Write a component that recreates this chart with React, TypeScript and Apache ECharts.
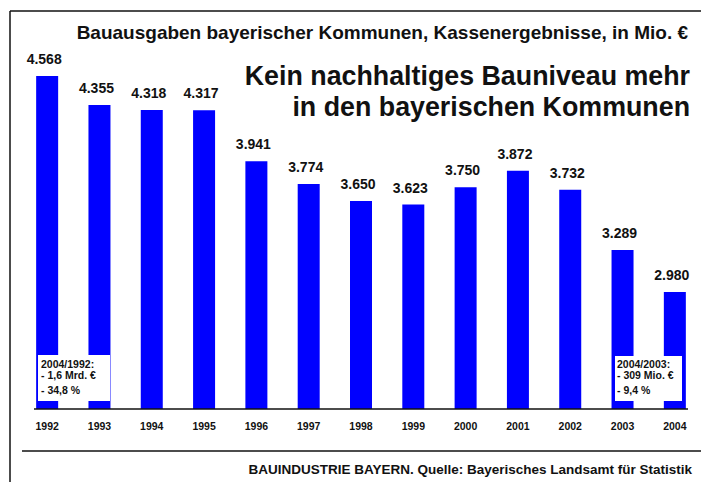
import React, { useEffect, useRef } from "react";
import * as echarts from "echarts";

const years = ["1992", "1993", "1994", "1995", "1996", "1997", "1998", "1999", "2000", "2001", "2002", "2003", "2004"];
const spending = [4568, 4355, 4318, 4317, 3941, 3774, 3650, 3623, 3750, 3872, 3732, 3289, 2980];
const subtitle = "Bauausgaben bayerischer Kommunen, Kassenergebnisse, in Mio. €";
const headline = ["Kein nachhaltiges Bauniveau mehr", "in den bayerischen Kommunen"];
const noteLeft = ["2004/1992:", "- 1,6 Mrd. €", "- 34,8 %"];
const noteRight = ["2004/2003:", "- 309 Mio. €", "- 9,4 %"];
const footer = "BAUINDUSTRIE BAYERN. Quelle: Bayerisches Landsamt für Statistik";

const FONT = '"Liberation Sans", Arial, Helvetica, sans-serif';

export default function App() {
  const ref = useRef<HTMLDivElement>(null);
  useEffect(() => {
    if (!ref.current) return;
    const chart = echarts.init(ref.current, null, { renderer: "svg" });
    const txt = (text: string, size: number) => ({
      text,
      fontFamily: FONT,
      fontWeight: "bold",
      fontSize: size,
      fill: "#111",
    });
    const noteText = (lines: string[], x: number) =>
      lines.map((t, i) => ({
        type: "text",
        left: x,
        top: [358, 369, 384][i],
        z: 20,
        style: txt(t, 10.5),
      }));
    chart.setOption({
      animation: false,
      backgroundColor: "#ffffff",
      grid: { left: 21, right: 0, top: 76, bottom: 73, containLabel: false },
      xAxis: {
        type: "category",
        data: years,
        axisLine: { show: false },
        axisTick: { show: false },
        axisLabel: { color: "#111", fontFamily: FONT, fontWeight: "bold", fontSize: 10.5, margin: 11 },
      },
      yAxis: {
        type: "value",
        min: 2120,
        max: 4568,
        show: false,
        splitLine: { show: false },
      },
      series: [
        {
          type: "bar",
          data: spending,
          barWidth: 22,
          itemStyle: { color: "#0000ff" },
          label: {
            show: true,
            position: "top",
            distance: 10,
            offset: [-3, 0],
            color: "#111",
            fontFamily: FONT,
            fontWeight: "bold",
            fontSize: 14,
            formatter: (p: any) => (p.value / 1000).toFixed(3),
          },
        },
      ],
      graphic: [
        { type: "line", shape: { x1: 10, y1: 11, x2: 701, y2: 11 }, style: { stroke: "#111", lineWidth: 1.5 } },
        { type: "line", shape: { x1: 10, y1: 11, x2: 10, y2: 482 }, style: { stroke: "#111", lineWidth: 1.5 } },
        { type: "line", shape: { x1: 34, y1: 409, x2: 688, y2: 409 }, style: { stroke: "#111", lineWidth: 1.5 }, z: 20 },
        { type: "line", shape: { x1: 22, y1: 451, x2: 701, y2: 451 }, style: { stroke: "#111", lineWidth: 1.5 } },
        { type: "text", right: 13, top: 23, style: txt(subtitle, 19) },
        { type: "text", right: 11, top: 62, style: txt(headline[0], 26.8) },
        { type: "text", right: 11, top: 93, style: txt(headline[1], 26.8) },
        { type: "rect", shape: { x: 38, y: 355, width: 72, height: 46 }, style: { fill: "#fff" }, z: 15 },
        { type: "rect", shape: { x: 615, y: 356, width: 67, height: 45 }, style: { fill: "#fff" }, z: 15 },
        ...noteText(noteLeft, 41),
        ...noteText(noteRight, 617),
        { type: "text", right: 9, top: 462, style: txt(footer, 13.5) },
      ],
    });
    return () => chart.dispose();
  }, []);
  return <div ref={ref} style={{ position: "absolute", left: 0, top: 0, width: 701, height: 482 }} />;
}
